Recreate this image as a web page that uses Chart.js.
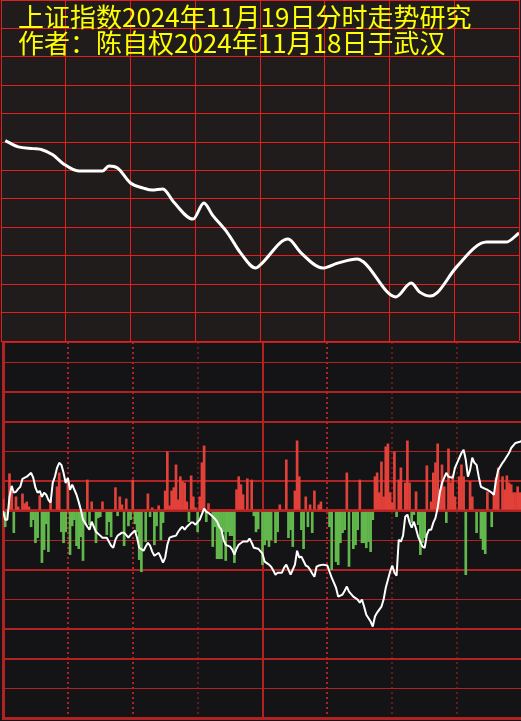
<!DOCTYPE html>
<html>
<head>
<meta charset="utf-8">
<script src="https://cdn.jsdelivr.net/npm/chart.js@4/dist/chart.umd.min.js"></script>
<style>
  html, body { margin: 0; padding: 0; background: #141416; width: 521px; height: 721px; overflow: hidden; }
  #topBox { position: absolute; left: 0; top: 0; width: 521px; height: 342px; }
  #bottomBox { position: absolute; left: 0; top: 342px; width: 523px; height: 379px; }
  #topChart { background: #201c1b; }
  #bottomChart { background: #141416; }
  #title {
    position: absolute; left: 18px; top: 3px; z-index: 5;
    color: #ffff00; font-family: "Noto Sans CJK SC", sans-serif;
    font-size: 26px; line-height: 26px; white-space: nowrap;
  }
</style>
</head>
<body>
<div id="topBox"><canvas id="topChart" width="521" height="342"></canvas></div>
<div id="bottomBox"><canvas id="bottomChart" width="523" height="379"></canvas></div>
<div id="title">上证指数2024年11月19日分时走势研究<br>作者：陈自权2024年11月18日于武汉</div>
<script>
// top panel: smooth trend curve (minutes since open / relative level)
const topMinutes = [2, 8, 15, 19, 24, 29, 36, 47, 50, 54, 60, 66, 70, 75, 80, 89, 94, 98, 105, 111, 118, 120, 133, 139, 149, 156, 165, 168, 183, 190, 194, 199, 202, 211, 225, 234, 240];
const topValues = [705, 683, 677, 673, 655, 623, 598, 598, 616, 609, 556, 538, 531, 535, 489, 429, 486, 443, 380, 310, 257, 267, 359, 310, 257, 274, 289, 278, 155, 204, 172, 158, 169, 260, 348, 348, 380];

// bottom panel: red / green bars
const barMinutes = [0, 1, 3, 4, 5, 6, 7, 9, 10, 11, 12, 13, 14, 15, 16, 17, 18, 19, 20, 21, 22, 25, 26, 27, 28, 29, 30, 31, 32, 33, 34, 35, 36, 37, 38, 39, 40, 41, 43, 44, 45, 46, 48, 49, 50, 52, 53, 54, 55, 56, 57, 58, 59, 60, 61, 62, 63, 64, 66, 67, 68, 69, 70, 71, 72, 73, 74, 75, 76, 77, 78, 79, 80, 81, 82, 83, 84, 85, 86, 87, 88, 89, 90, 91, 92, 93, 94, 95, 97, 98, 99, 100, 101, 102, 103, 104, 105, 106, 107, 108, 109, 110, 111, 113, 115, 116, 117, 118, 120, 121, 122, 123, 124, 126, 127, 128, 131, 132, 133, 134, 135, 136, 137, 138, 139, 140, 141, 142, 143, 144, 146, 147, 151, 152, 154, 155, 156, 157, 158, 159, 160, 162, 163, 164, 165, 166, 167, 168, 169, 170, 171, 172, 173, 174, 175, 176, 177, 178, 179, 180, 181, 182, 183, 184, 186, 187, 188, 189, 190, 191, 192, 193, 194, 195, 196, 198, 199, 200, 201, 202, 203, 204, 205, 206, 207, 208, 209, 211, 212, 213, 214, 216, 217, 219, 221, 222, 223, 224, 226, 227, 228, 229, 231, 232, 233, 234, 235, 236, 237, 238, 239];
const barValues = [40, -54, 125, 64, -74, 47, 13, 57, 24, 30, 13, -54, -30, -108, -91, 51, -175, -131, -44, -138, 37, 81, 128, -71, -108, -71, 104, -148, -51, -30, -118, -128, -88, -168, -44, 104, -47, 30, -108, -24, -20, 30, -81, -37, -88, 78, -17, 47, 20, -118, 40, -51, -30, 104, -44, -71, -165, -206, -104, 57, -20, 10, -115, -51, 17, -98, -40, 67, 199, 17, 67, 78, 155, 37, 115, 98, 94, 30, -37, 118, 47, 10, -71, 47, 162, 219, -37, 24, -121, -54, -162, -162, -162, -71, -168, -71, -84, -84, -175, 71, 115, 88, 54, 108, 104, -17, -71, -61, -182, -115, -98, -121, -98, -108, -71, 20, 172, -91, -64, -121, 67, 236, 115, -64, -128, 47, -54, 20, -74, 67, 20, 30, -54, -199, -172, -182, -108, -74, -64, 128, -188, -128, -115, -64, 104, -108, -108, -125, -104, -138, -30, 115, 128, 61, 165, 47, 216, 226, 61, 27, 199, -20, 104, 145, 94, 236, 94, -40, -13, 64, -47, -148, -108, -91, 152, 30, 128, 162, 226, 71, 155, 81, -40, 209, 94, 121, 47, 115, 155, 115, -216, 98, 47, -74, -94, -131, -145, 64, -54, 61, 111, 145, 115, 71, 118, 94, 88, 61, 61, 81, 61];

// bottom panel: white jagged line
const lineMinutes = [0, 1, 2, 3, 4, 5, 6, 7, 8, 9, 11, 13, 14, 15, 16, 17, 18, 19, 20, 21, 22, 23, 24, 25, 26, 27, 28, 29, 30, 31, 32, 34, 35, 36, 37, 39, 40, 41, 42, 43, 45, 46, 48, 50, 51, 52, 53, 55, 56, 58, 59, 61, 62, 63, 65, 66, 67, 68, 69, 70, 72, 73, 74, 75, 76, 77, 78, 80, 81, 82, 83, 84, 85, 87, 88, 89, 91, 93, 94, 95, 96, 98, 99, 100, 101, 102, 103, 105, 106, 107, 108, 109, 111, 113, 114, 115, 116, 118, 120, 121, 123, 124, 125, 126, 127, 129, 130, 131, 132, 133, 135, 136, 137, 138, 140, 141, 142, 143, 144, 145, 146, 148, 150, 151, 152, 153, 154, 155, 157, 158, 159, 160, 162, 164, 165, 166, 167, 168, 170, 171, 172, 173, 175, 176, 177, 179, 180, 181, 182, 183, 184, 185, 186, 187, 188, 189, 190, 191, 192, 194, 195, 196, 197, 198, 199, 200, 201, 202, 203, 205, 206, 208, 209, 210, 212, 213, 214, 215, 216, 217, 218, 219, 220, 221, 223, 224, 226, 227, 228, 229, 231, 232, 234, 235, 237, 239, 240];
const lineValues = [0, -30, -30, 47, 84, 61, 64, 74, 81, 108, 115, 128, 111, 78, 61, 67, 47, 61, 54, 37, 27, 94, 115, 145, 162, 155, 128, 94, 111, 71, 88, 54, 30, 3, -30, -54, -64, -37, -54, -71, -84, -91, -91, -118, -125, -98, -84, -74, -74, -91, -81, -67, -91, -125, -135, -121, -108, -118, -138, -152, -142, -158, -175, -158, -115, -91, -88, -84, -71, -61, -54, -64, -54, -40, -40, -47, -30, 7, -3, -7, -13, -27, -37, -54, -64, -98, -115, -121, -131, -148, -128, -115, -104, -104, -94, -108, -125, -128, -145, -172, -182, -189, -202, -216, -209, -209, -192, -182, -199, -216, -182, -135, -158, -155, -185, -189, -199, -212, -223, -189, -185, -182, -185, -206, -226, -243, -260, -290, -283, -270, -256, -273, -290, -300, -310, -300, -324, -351, -374, -391, -357, -344, -324, -300, -260, -206, -185, -209, -219, -98, -104, -84, -20, -13, -40, -57, -37, -61, -88, -121, -125, -81, -64, -64, -40, -24, 10, 61, 94, 128, 115, 111, 145, 162, 195, 206, 172, 115, 138, 179, 162, 155, 115, 81, 74, 71, 61, 54, 104, 138, 162, 172, 195, 212, 229, 233, 236];

const hourMarks = [30, 60, 90, 120, 150, 180, 210];

const gridBright = '#e41e1e';
const gridDark = '#b22222';
const upColor = '#e2413a';
const downColor = '#62b84c';

Chart.defaults.animation = false;

// top panel
new Chart(document.getElementById('topChart'), {
    type: 'line',
    data: {
        datasets: [{
            data: topMinutes.map((m, i) => ({ x: m, y: topValues[i] })),
            borderColor: '#ffffff',
            borderWidth: 3,
            pointRadius: 0,
            cubicInterpolationMode: 'monotone'
        }]
    },
    options: {
        responsive: false,
        layout: { padding: { left: 1, right: 2, top: 0, bottom: 1 } },
        plugins: { legend: { display: false }, tooltip: { enabled: false } },
        scales: {
            x: {
                type: 'linear', min: 0, max: 240,
                ticks: { display: false, stepSize: 30 },
                grid: { color: gridBright, lineWidth: 1, drawTicks: false },
                border: { display: false }
            },
            y: {
                min: 0, max: 1200,
                ticks: { display: false, stepSize: 100 },
                grid: { color: gridBright, lineWidth: 1, drawTicks: false },
                border: { display: false }
            }
        }
    }
});

// dashed session lines for the bottom panel
const sessionLines = {
    id: 'sessionLines',
    beforeDatasetsDraw(chart) {
        const { ctx, chartArea, scales } = chart;
        ctx.save();
        ctx.strokeStyle = gridDark;
        hourMarks.forEach(m => {
            const x = Math.round(scales.x.getPixelForValue(m));
            const solid = m === 120;
            ctx.lineWidth = solid ? 2 : (m === 90 || m >= 180 ? 1 : 2);
            ctx.setLineDash(solid ? [] : [2, 3]);
            ctx.beginPath();
            ctx.moveTo(x, chartArea.top);
            ctx.lineTo(x, chartArea.bottom);
            ctx.stroke();
        });
        ctx.restore();
    }
};

const thickRows = [570, 400, 300, 100, -200, -400, -500];

// bottom panel
new Chart(document.getElementById('bottomChart'), {
    type: 'bar',
    data: {
        datasets: [
            {
                type: 'line',
                data: lineMinutes.map((m, i) => ({ x: m, y: lineValues[i] })),
                borderColor: '#ffffff',
                borderWidth: 2,
                pointRadius: 0,
                tension: 0,
                borderJoinStyle: 'bevel',
                order: 0
            },
            {
                type: 'bar',
                data: barMinutes.map((m, i) => ({ x: m, y: barValues[i] })),
                backgroundColor: ctx => (ctx.raw && ctx.raw.y < 0) ? downColor : upColor,
                barThickness: 2,
                order: 1
            }
        ]
    },
    options: {
        responsive: false,
        layout: { padding: { left: 3, right: 1, top: 0, bottom: 3 } },
        plugins: { legend: { display: false }, tooltip: { enabled: false } },
        scales: {
            x: {
                type: 'linear', min: 0, max: 240, offset: false,
                ticks: { display: false, stepSize: 30 },
                grid: { display: false, drawTicks: false },
                border: { display: true, color: gridDark, width: 3 }
            },
            y: {
                min: -700, max: 570,
                ticks: { display: false, stepSize: 100 },
                grid: {
                    color: gridDark,
                    drawTicks: false,
                    lineWidth: ctx => {
                        const v = ctx.tick ? ctx.tick.value : 0;
                        if (v === 0 || v === -700) return 3;
                        return thickRows.includes(v) ? 2 : 1;
                    }
                },
                border: { display: true, color: gridDark, width: 3 }
            }
        }
    },
    plugins: [sessionLines]
});
</script>
</body>
</html>
